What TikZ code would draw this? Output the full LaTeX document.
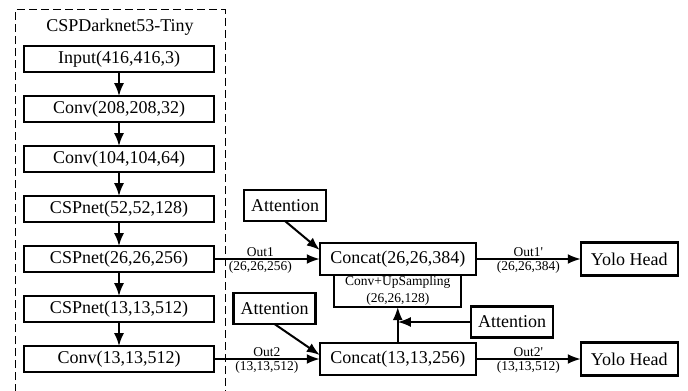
\documentclass[tikz,border=0pt]{standalone}
\usepackage{fontspec}
\setmainfont{Liberation Serif}
\usetikzlibrary{positioning,arrows.meta}

\begin{document}
\begin{tikzpicture}[x=0.5pt, y=-0.5pt, node distance=12.1pt,
  block/.style={draw, line width=1.1pt, outer sep=0pt, minimum width=94.75pt, minimum height=12.9pt, inner sep=1pt, font=\fontsize{9}{10}\selectfont},
  catbox/.style={block, minimum width=78pt, minimum height=16pt},
  attbox/.style={block, minimum width=41pt, minimum height=15.5pt},
  headbox/.style={block, minimum width=48.5pt, minimum height=16.5pt},
  upbox/.style={block, minimum width=63.5pt, minimum height=16pt, inner sep=0pt, align=center, font=\fontsize{6.75}{8.5}\selectfont},
  arr/.style={-{Latex[length=6.5pt,width=5pt]}, line width=1pt},
  lbl/.style={font=\fontsize{6.75}{7.5}\selectfont, inner sep=0.8pt}]
\useasboundingbox (0,0) rectangle (688,390);

% Backbone frame
\draw[line width=0.5pt, dash pattern=on 4pt off 2pt] (15,392) -- (15,10) -- (225,10) -- (225,392);
\node[font=\fontsize{9}{10}\selectfont] (title) at (120,27) {CSPDarknet53-Tiny};

% Create nodes for the backbone
\node[block] (input) at (119,59) {Input(416,416,3)};
\node[block, below=of input] (conv1) {Conv(208,208,32)};
\node[block, below=of conv1] (conv2) {Conv(104,104,64)};
\node[block, below=of conv2] (csp52) {CSPnet(52,52,128)};
\node[block, below=of csp52] (csp26) {CSPnet(26,26,256)};
\node[block, below=of csp26] (csp13) {CSPnet(13,13,512)};
\node[block, below=of csp13] (conv13) {Conv(13,13,512)};

% Neck and heads
\node[catbox, right=53pt of csp26] (concat26) {Concat(26,26,384)};
\node[catbox, right=53pt of conv13] (concat13) {Concat(13,13,256)};
\node[upbox, below=0pt of concat26] (upsample) {Conv+UpSampling\\(26,26,128)};
\node[headbox, right=52.5pt of concat26] (head1) {Yolo Head};
\node[headbox, right=52.5pt of concat13] (head2) {Yolo Head};
\node[attbox] (att1) at (285,205.5) {Attention};
\node[attbox] (att2) at (274.5,308.5) {Attention};
\node[attbox] (att3) at (512,322) {Attention};

% Connections
\draw[arr] (input) -- (conv1);
\draw[arr] (conv1) -- (conv2);
\draw[arr] (conv2) -- (csp52);
\draw[arr] (csp52) -- (csp26);
\draw[arr] (csp26) -- (csp13);
\draw[arr] (csp13) -- (conv13);
\draw[arr] (csp26) -- node[lbl, above, pos=0.44] {Out1} node[lbl, below, pos=0.44] {(26,26,256)} (concat26);
\draw[arr] (conv13) -- node[lbl, above] {Out2} node[lbl, below] {(13,13,512)} (concat13);
\draw[arr] (concat26) -- node[lbl, above] {Out1\textquotesingle} node[lbl, below] {(26,26,384)} (head1);
\draw[arr] (concat13) -- node[lbl, above] {Out2\textquotesingle} node[lbl, below] {(13,13,512)} (head2);
\draw[arr] (att1.south) -- ([yshift=4.5pt]concat26.west);
\draw[arr] (att2.south) -- ([yshift=2pt]concat13.west);
\draw[arr] (concat13.north) -- (concat13.north |- upsample.south);
\draw[arr] (att3.west) -- (att3.west -| concat13.north);
\end{tikzpicture}
\end{document}
